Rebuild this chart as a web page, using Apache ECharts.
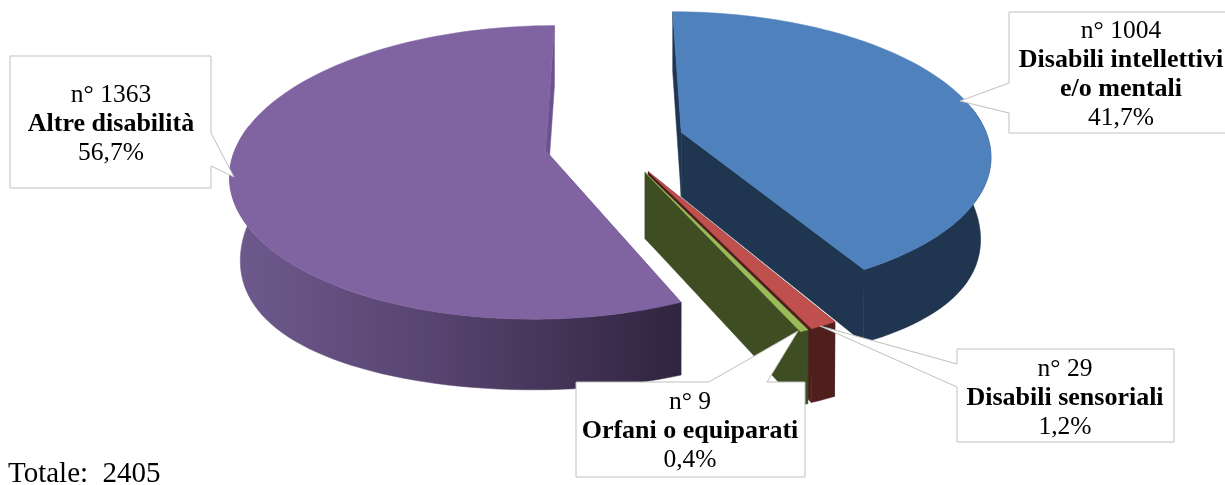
<!DOCTYPE html>
<html><head><meta charset="utf-8">
<style>html,body{margin:0;padding:0;background:#fff}#c{width:1225px;height:485px}</style>
<script src="https://cdn.jsdelivr.net/npm/echarts@6/dist/echarts.min.js"></script>
</head><body><div id="c"></div>
<script>
const categories = ['Disabili intellettivi e/o mentali','Disabili sensoriali','Orfani o equiparati','Altre disabilità'];
const counts = [1004, 29, 9, 1363];
const percentLabels = ['41,7%','1,2%','0,4%','56,7%'];
const totalLabel = 'Totale:  2405';
const topColors = ['#4f81bd','#c0504d','#9bbb59','#8064a2'];
const wallColors = ['#1f3550','#4f1f1e','#3f4d22','#6d5290'];

const X0=614.5, Y0=142, A=308, B=141, P=0.148, Q=0.03, D=67, SIDE_EXTRA=14, EXPL=0.23, START=0;
const explodeShift=[-3,0,0,-3];
const paintOrder=[0,3,1,2];
const total=counts.reduce((a,b)=>a+b,0);

function proj(u,v,f,side){
  const w=side||0;
  const s=1/(1-P*v+Q*f);
  const sx=1/(1-P*v+Q*f*w*w);
  return [X0+A*u*sx, Y0+(B*v+(D+SIDE_EXTRA*w)*f)*s];
}
function arc(ox,oy,a0,a1,f){
  const out=[], n=Math.max(2,Math.ceil((a1-a0)/2));
  for(let i=0;i<=n;i++){
    const t=(a0+(a1-a0)*i/n)*Math.PI/180, st=Math.sin(t);
    out.push(proj(ox+st,oy-Math.cos(t),f,st*st));
  }
  return out;
}
function renderItem(params,api){
  const i=params.dataIndex;
  let before=0;
  for(let k=0;k<i;k++) before+=counts[k];
  const a0=START+before/total*360, a1=a0+api.value(0)/total*360;
  const mid=((a0+a1)/2+explodeShift[i])*Math.PI/180;
  const ox=EXPL*Math.sin(mid), oy=-EXPL*Math.cos(mid);
  const top=arc(ox,oy,a0,a1,0), bot=arc(ox,oy,a0,a1,1);
  const wa0=Math.max(a0,80), wa1=Math.min(a1,280);
  const wTop=arc(ox,oy,wa0,wa1,0), wBot=arc(ox,oy,wa0,wa1,1);
  const apexT=proj(ox,oy,0), apexB=proj(ox,oy,1);
  const z=paintOrder.indexOf(i)*10+1;
  const poly=(pts,fill,zz)=>({type:'polygon',z2:zz,shape:{points:pts},style:{fill:fill,stroke:fill,lineWidth:0.5}});
  const outerFill = i===3
    ? new echarts.graphic.LinearGradient(0,0,1,0,[{offset:0,color:'#6f5a8e'},{offset:0.45,color:'#584470'},{offset:1,color:'#30243f'}])
    : wallColors[i];
  const kids=[
    poly([apexT,top[0],bot[0],apexB],wallColors[i],z),
    poly([apexT,top[top.length-1],bot[bot.length-1],apexB],wallColors[i],z+1),
    poly(wTop.concat(wBot.slice().reverse()),outerFill,z+2),
    poly([apexT].concat(top),topColors[i],z+3)
  ];
  return {type:'group',children:kids};
}

function callout(points){
  return {type:'polygon',z:50,shape:{points:points},style:{fill:'#fff',stroke:'#bfbfbf',lineWidth:1}};
}
function label(cx,cy,lines){
  const lh=29, kids=[];
  lines.forEach((l,j)=>kids.push({type:'text',z:60,x:cx,y:cy+(j-(lines.length-1)/2)*lh,
    style:{text:l.t,fill:'#000',font:(l.b?'bold 26px':'25.5px')+' "Liberation Serif"',textAlign:'center',textVerticalAlign:'middle'}}));
  return kids;
}
const graphics=[
  callout([[10,56],[211,56],[211,133],[234,177],[211,166],[211,188],[10,188]]),
  callout([[1009,12],[1226,12],[1226,133],[1009,133],[1009,113],[960,101],[1009,83]]),
  callout([[957,349],[1174,349],[1174,442],[957,442],[957,387],[820,326],[957,364]]),
  callout([[576,382],[709,382],[798,331],[767,382],[805,382],[805,477],[576,477]]),
  ...label(111,124,[{t:'n° '+counts[3]},{t:categories[3],b:1},{t:percentLabels[3]}]),
  ...label(1121,74.5,[{t:'n° '+counts[0]},{t:'Disabili intellettivi',b:1},{t:'e/o mentali',b:1},{t:percentLabels[0]}]),
  ...label(1065,398,[{t:'n° '+counts[1]},{t:categories[1],b:1},{t:percentLabels[1]}]),
  ...label(690,431,[{t:'n° '+counts[2]},{t:categories[2],b:1},{t:percentLabels[2]}]),
  {type:'text',z:60,x:8,y:474,style:{text:totalLabel,fill:'#000',font:'29px "Liberation Serif"',textVerticalAlign:'middle'}}
];

const chart=echarts.init(document.getElementById('c'),null,{renderer:'canvas'});
chart.setOption({
  animation:false,
  backgroundColor:'#fff',
  series:[{type:'custom',coordinateSystem:'none',renderItem:renderItem,silent:true,
    data:counts.map((v,i)=>({name:categories[i],value:[v]}))}],
  graphic:{elements:graphics}
});
</script></body></html>
